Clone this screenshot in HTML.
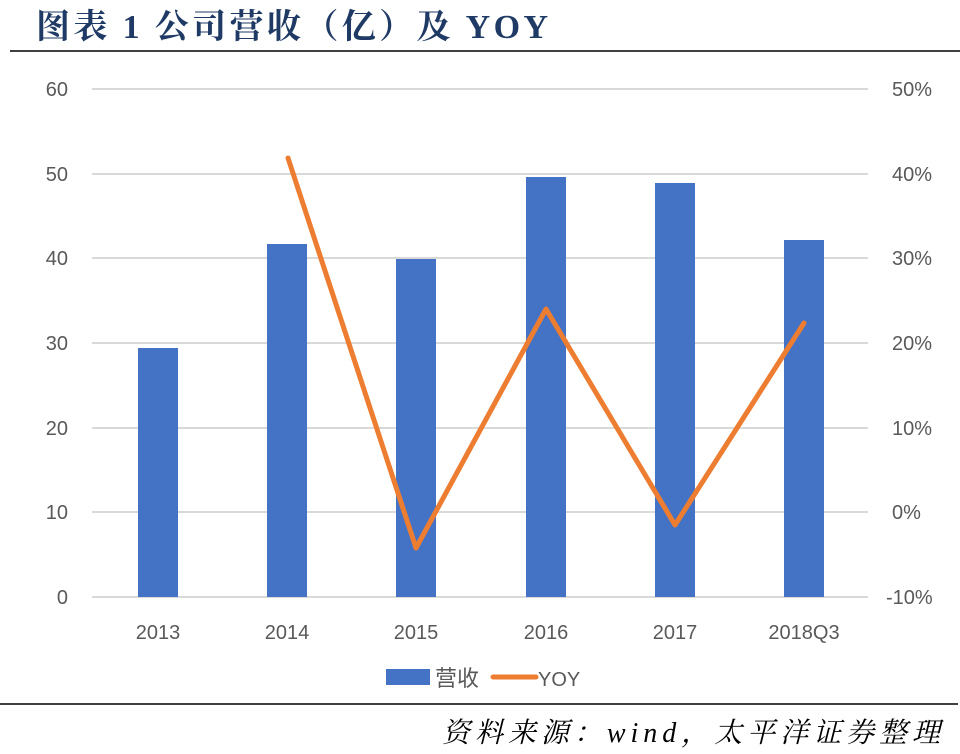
<!DOCTYPE html>
<html><head><meta charset="utf-8"><style>
html,body{margin:0;padding:0;background:#fff;}
svg{display:block;}
</style></head><body>
<svg width="960" height="754" viewBox="0 0 960 754" xmlns="http://www.w3.org/2000/svg">
<rect width="960" height="754" fill="#fff"/>
<text x="36" y="38" textLength="512" lengthAdjust="spacing" font-family="'Liberation Serif','Noto Serif CJK SC',serif" font-weight="bold" font-size="34" fill="#1f3a64">图表 1 公司营收（亿）及 YOY</text>
<line x1="10" y1="51" x2="960" y2="51" stroke="#000" stroke-width="1.5"/>
<g stroke="#d9d9d9" stroke-width="2">
<line x1="92" y1="89" x2="868" y2="89"/>
<line x1="92" y1="174" x2="868" y2="174"/>
<line x1="92" y1="258" x2="868" y2="258"/>
<line x1="92" y1="343" x2="868" y2="343"/>
<line x1="92" y1="428" x2="868" y2="428"/>
<line x1="92" y1="512" x2="868" y2="512"/>
<line x1="92" y1="597" x2="868" y2="597"/>
</g>
<g font-family="'Liberation Sans',sans-serif" font-size="20" fill="#595959">
<g text-anchor="end">
<text x="68" y="96">60</text><text x="68" y="181">50</text><text x="68" y="265">40</text>
<text x="68" y="350">30</text><text x="68" y="435">20</text><text x="68" y="519">10</text><text x="68" y="604">0</text>
</g>
<g text-anchor="start">
<text x="892" y="96">50%</text><text x="892" y="181">40%</text><text x="892" y="265">30%</text>
<text x="892" y="350">20%</text><text x="892" y="435">10%</text><text x="892" y="519">0%</text><text x="886" y="604">-10%</text>
</g>
<g text-anchor="middle">
<text x="158" y="639">2013</text><text x="287" y="639">2014</text><text x="416" y="639">2015</text>
<text x="546" y="639">2016</text><text x="675" y="639">2017</text><text x="804" y="639">2018Q3</text>
</g>
</g>
<g fill="#4472c4">
<rect x="138" y="348" width="40" height="249"/>
<rect x="267" y="244" width="40" height="353"/>
<rect x="396" y="259" width="40" height="338"/>
<rect x="526" y="177" width="40" height="420"/>
<rect x="655" y="183" width="40" height="414"/>
<rect x="784" y="240" width="40" height="357"/>
</g>
<polyline points="288,158 416,548 546,309 675,525 804,323" fill="none" stroke="#ed7d31" stroke-width="5" stroke-linejoin="round" stroke-linecap="round"/>
<rect x="386" y="669" width="44" height="16" fill="#4472c4"/>
<text x="435" y="686" font-family="'Liberation Sans','Noto Sans CJK SC',sans-serif" font-size="22" fill="#595959">营收</text>
<line x1="493" y1="677" x2="536" y2="677" stroke="#ed7d31" stroke-width="5" stroke-linecap="round"/>
<text x="538" y="686" font-family="'Liberation Sans',sans-serif" font-size="20" fill="#595959">YOY</text>
<line x1="0" y1="704" x2="958" y2="704" stroke="#000" stroke-width="1.5"/>
<text x="442" y="742" textLength="498" lengthAdjust="spacing" font-family="'Liberation Serif','Noto Serif CJK SC',serif" font-style="italic" font-size="28" fill="#000">资料来源：wind，太平洋证券整理</text>
</svg>
</body></html>
